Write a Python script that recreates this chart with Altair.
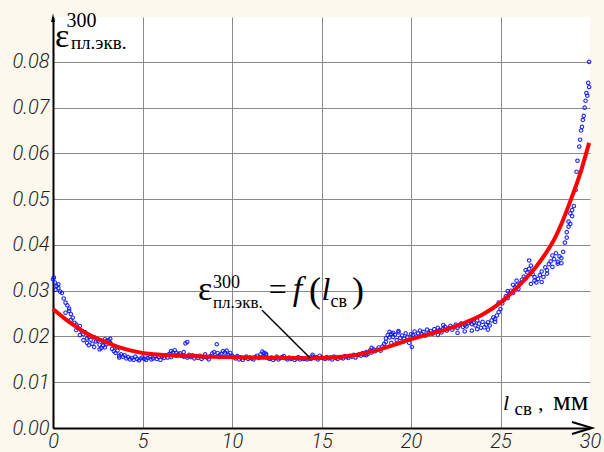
import altair as alt
import pandas as pd

# ---------------- data (y values in thousandths) ----------------
scatter_pts = [
    (0.0,32.5),(0.05,32.9),(0.1,31.8),(0.15,30.2),(0.2,31.0),(0.3,30.6),(0.3,31.4),(0.4,29.8),(0.5,29.5),
    (0.6,28.3),(0.7,27.4),(0.7,25.2),(0.8,26.8),(0.9,25.6),(0.9,26.1),(1.0,24.9),(1.0,23.6),
    (1.1,24.1),(1.2,23.0),(1.3,22.6),(1.3,21.4),(1.4,21.8),(1.5,22.3),(1.5,20.3),(1.6,21.2),(1.7,20.5),(1.7,19.2),(1.8,20.9),(1.9,19.6),(1.9,18.6),(2.0,19.9),(2.0,18.1),
    (2.1,19.3),(2.2,18.4),(2.3,17.7),(2.3,19.8),(2.4,18.9),(2.5,19.1),(2.6,18.2),(2.6,17.2),(2.7,17.5),(2.8,18.8),(2.8,18.0),(2.9,19.4),(2.9,17.6),(3.0,19.0),(3.0,18.3),
    (3.1,19.2),(3.2,18.6),(3.2,19.5),(3.3,17.3),(3.4,16.8),(3.5,16.4),(3.5,17.8),(3.6,16.9),(3.7,15.8),(3.7,15.4),(3.8,16.1),(3.9,15.6),(4.0,15.9),
    (4.1,15.2),(4.2,15.5),(4.3,15.0),(4.4,15.3),(4.5,14.9),(4.6,15.6),(4.7,15.1),(4.8,14.8),(4.9,15.2),(5.0,15.4),
    (5.1,15.1),(5.2,14.9),(5.3,15.3),(5.4,15.6),(5.5,15.0),(5.6,15.2),(5.7,15.7),(5.8,15.1),(5.9,15.5),(6.0,14.9),
    (6.1,15.6),(6.2,15.3),(6.3,15.9),(6.4,15.4),(6.5,16.2),(6.6,16.8),(6.6,15.5),(6.7,16.5),(6.8,17.0),(6.9,16.4),(6.9,15.8),(7.0,16.1),
    (7.1,16.3),(7.2,15.8),(7.3,15.6),(7.3,16.6),(7.4,18.5),(7.5,18.8),(7.5,15.4),(7.6,16.0),(7.7,15.5),(7.8,15.9),(7.9,15.2),(8.0,15.7),
    (8.1,15.3),(8.2,15.8),(8.3,15.1),(8.4,15.5),(8.5,16.1),(8.6,15.4),(8.7,15.0),(8.8,15.7),(8.9,16.3),(9.0,16.6),
    (9.15,18.3),(9.2,16.4),(9.3,15.9),(9.3,15.5),(9.4,16.2),(9.5,16.8),(9.6,16.5),(9.7,15.6),(9.7,16.9),(9.8,16.0),(9.9,16.4),(10.0,15.8),
    (10.1,15.5),(10.2,15.2),(10.3,15.7),(10.4,15.0),(10.5,15.4),(10.6,14.9),(10.7,15.3),(10.8,15.6),(10.9,15.1),(11.0,15.4),
    (11.1,15.2),(11.2,15.0),(11.3,15.5),(11.4,15.8),(11.5,15.3),(11.6,16.1),(11.7,15.6),(11.7,16.7),(11.8,16.4),(11.9,15.9),(11.9,16.2),(12.0,15.3),
    (12.1,15.1),(12.2,15.4),(12.3,14.9),(12.4,15.2),(12.5,15.6),(12.6,15.0),(12.7,15.3),(12.8,15.5),(12.9,15.7),(13.0,15.2),
    (13.1,15.0),(13.2,15.4),(13.3,15.1),(13.4,15.3),(13.5,14.9),(13.6,15.2),(13.7,15.5),(13.8,15.0),(13.9,15.3),(14.0,15.1),
    (14.1,15.2),(14.2,15.0),(14.3,15.4),(14.4,15.1),(14.5,15.6),(14.5,16.0),(14.6,15.3),(14.7,15.5),(14.8,15.0),(14.9,15.8),(15.0,15.4),
    (15.1,15.3),(15.2,15.1),(15.3,15.5),(15.4,15.2),(15.5,15.4),(15.6,15.0),(15.7,15.6),(15.8,15.3),(15.9,15.1),(16.0,15.5),
    (16.1,15.4),(16.2,15.2),(16.3,15.7),(16.4,15.5),(16.5,15.3),(16.6,15.8),(16.7,15.6),(16.8,16.0),(16.9,15.4),(17.0,15.9),
    (17.1,16.1),(17.2,15.8),(17.3,16.4),(17.4,16.0),(17.5,16.6),(17.5,15.9),(17.6,16.2),(17.7,16.9),(17.8,16.5),(17.8,17.5),(17.9,17.2),(18.0,16.8),
    (18.1,17.1),(18.2,17.6),(18.3,16.9),(18.4,17.8),(18.5,18.4),(18.6,19.6),(18.6,18.8),(18.7,20.3),(18.8,19.8),(18.8,21.0),(18.9,20.6),(18.9,18.6),(19.0,19.9),(19.0,20.8),
    (19.1,20.4),(19.2,19.2),(19.3,20.9),(19.3,21.2),(19.4,19.7),(19.5,20.2),(19.6,19.5),(19.6,18.9),(19.7,20.7),(19.8,19.9),(19.9,18.6),(20.0,20.5),(20.05,17.7),
    (20.1,20.3),(20.2,21.1),(20.3,20.0),(20.4,20.7),(20.5,21.3),(20.6,20.5),(20.7,21.0),(20.8,20.2),(20.9,21.5),(21.0,20.8),
    (21.1,21.2),(21.2,20.6),(21.3,21.6),(21.4,21.0),(21.5,21.9),(21.5,20.4),(21.6,21.4),(21.7,20.9),(21.8,21.7),(21.8,22.5),(21.9,22.1),(22.0,21.3),
    (22.1,21.8),(22.2,22.3),(22.3,21.5),(22.4,22.0),(22.5,22.6),(22.6,21.9),(22.6,20.8),(22.7,22.4),(22.8,22.8),(22.9,22.1),(23.0,22.5),(23.0,21.1),
    (23.1,22.2),(23.2,22.9),(23.3,23.3),(23.4,22.7),(23.4,21.3),(23.5,23.0),(23.6,22.4),(23.7,23.5),(23.7,21.6),(23.8,22.8),(23.9,21.9),(24.0,23.2),
    (24.1,22.0),(24.2,22.6),(24.3,23.1),(24.3,21.5),(24.4,22.4),(24.5,23.5),(24.6,24.2),(24.7,23.8),(24.7,23.2),(24.8,24.6),(24.9,25.3),(24.9,27.4),(25.0,26.0),
    (25.1,27.2),(25.2,28.0),(25.3,28.8),(25.4,28.4),(25.4,29.9),(25.5,29.3),(25.6,30.0),(25.7,29.5),(25.7,31.3),(25.8,30.7),(25.9,31.2),(25.9,32.2),(26.0,30.4),
    (26.1,31.6),(26.2,32.4),(26.3,33.1),(26.4,32.7),(26.4,34.5),(26.5,34.0),(26.6,34.8),(26.6,36.6),(26.7,35.5),(26.7,31.5),(26.8,33.6),(26.9,32.2),(26.9,33.0),(27.0,31.8),
    (27.1,32.6),(27.2,33.4),(27.3,34.2),(27.3,31.9),(27.4,33.0),(27.5,35.1),(27.6,34.5),(27.6,33.7),(27.7,35.8),(27.8,36.4),(27.9,35.2),(27.9,37.7),(28.0,36.9),
    (28.1,38.2),(28.2,36.3),(28.2,35.9),(28.3,37.5),(28.4,36.0),(28.4,37.1),(28.5,38.5),
    (28.6,40.5),(28.7,42.8),(28.7,41.6),(28.8,45.1),(28.8,44.0),(28.9,46.9),(28.9,44.6),(29.0,47.6),(29.0,46.3),
    (29.1,48.5),(29.2,52.0),(29.25,56.0),(29.3,58.4),(29.4,61.5),(29.45,63.0),(29.5,65.0),(29.55,65.8),(29.6,67.3),(29.65,68.2),
    (29.7,70.0),(29.75,71.5),(29.8,73.2),(29.85,72.6),(29.9,75.4),(29.95,80.0),(29.95,74.5),
]

fit_x = [0, 0.5, 1, 1.5, 2, 2.5, 3, 3.5, 4, 4.5, 5, 6, 7, 8, 9, 10, 11, 12, 13, 14, 15, 16, 17, 18, 19, 20,
         21, 22, 23, 24, 25, 26, 27, 27.5, 28, 28.5, 29, 29.5, 29.95]
fit_y = [26.0, 24.4, 22.9, 21.6, 20.4, 19.5, 18.7, 17.9, 17.3, 16.8, 16.4, 16.0, 15.8, 15.65, 15.55, 15.5, 15.4,
         15.35, 15.3, 15.25, 15.3, 15.5, 16.0, 16.9, 18.1, 19.4, 20.5, 21.6, 23.0, 24.8, 27.4, 31.0, 35.3, 38.0,
         41.2, 45.5, 50.6, 56.2, 62.3]

x_ticks = [0, 5, 10, 15, 20, 25, 30]
y_ticks = [0, 0.01, 0.02, 0.03, 0.04, 0.05, 0.06, 0.07, 0.08]

leader_x = [11.67, 14.36]
leader_y = [25.8, 15.3]

# text pieces: text, x, y(thousandths), font size, italic
label_text = ["ε", "300", "пл.экв.", "=", "f", "(", "l", "св", ")",
              "ε", "300", "пл.экв.",
              "l", "св", ",", "мм"]
label_x = [8.10, 8.94, 8.94, 12.05, 13.4, 14.3, 15.0, 15.5, 16.7,
           0.11, 0.75, 1.0,
           25.14, 25.78, 27.1, 27.93]
label_y = [27.98, 30.6, 26.2, 27.98, 27.98, 27.6, 27.98, 26.45, 27.6,
           83.3, 87.7, 82.9,
           3.93, 2.84, 3.93, 3.93]
label_size = [34, 18, 17, 32, 34, 36, 32, 18, 36,
              34, 20, 19,
              22, 19, 22, 28]
label_italic = [0, 0, 0, 0, 1, 0, 1, 0, 0,
                0, 0, 0,
                1, 0, 0, 0]

# ---------------- frames ----------------
sc = pd.DataFrame(scatter_pts, columns=["x", "ym"])
sc["y"] = sc["ym"] / 1000
fit = pd.DataFrame({"x": fit_x, "y": [v / 1000 for v in fit_y]})
lead = pd.DataFrame({"x": leader_x, "y": [v / 1000 for v in leader_y]})
labels = pd.DataFrame({"t": label_text, "x": label_x, "y": [v / 1000 for v in label_y],
                       "fs": label_size, "it": label_italic})

W, H = 537, 411
YMAX = 0.0898
xs = alt.Scale(domain=[0, 30], nice=False, zero=False)
ys = alt.Scale(domain=[0, YMAX], nice=False, zero=False)

tick_font = "Roboto"

x_axis = alt.Axis(values=x_ticks, title=None, grid=True, gridColor="#8a8a8a", gridWidth=1,
                  gridOpacity={"condition": {"test": "datum.value >= 30", "value": 0}, "value": 1},
                  domainColor="black", domainWidth=2, tickSize=0, labelPadding=3,
                  labelFont=tick_font, labelFontStyle="italic", labelFontWeight=300, labelFontSize=20,
                  labelColor="#222222", labelFlush=False, format="d")
y_axis = alt.Axis(values=y_ticks, title=None, grid=True, gridColor="#8a8a8a", gridWidth=1,
                  domainColor="black", domainWidth=2, tickSize=0, labelPadding=4,
                  labelFont=tick_font, labelFontStyle="italic", labelFontWeight=300, labelFontSize=20,
                  labelColor="#222222", labelFlush=False, format=".2f")

base_axes = alt.Chart(sc).mark_point(opacity=0).encode(
    x=alt.X("x:Q", scale=xs, axis=x_axis),
    y=alt.Y("y:Q", scale=ys, axis=y_axis),
)

points = alt.Chart(sc).mark_point(filled=False, size=12, strokeWidth=1.1, color="#0a14ff", opacity=0.9).encode(
    x=alt.X("x:Q", scale=xs), y=alt.Y("y:Q", scale=ys)
)

curve = alt.Chart(fit).mark_line(color="#ff0000", strokeWidth=4, interpolate="monotone").encode(
    x=alt.X("x:Q", scale=xs), y=alt.Y("y:Q", scale=ys)
)

leader = alt.Chart(lead).mark_line(color="black", strokeWidth=1.5).encode(
    x=alt.X("x:Q", scale=xs), y=alt.Y("y:Q", scale=ys)
)

arrow_pts = pd.DataFrame({"x": [0.0], "y": [YMAX]})
y_arrow = alt.Chart(arrow_pts).mark_point(
    shape="M0,-0.7 L0.4,1 L-0.4,1 Z", filled=True, color="black", size=100, opacity=1
).encode(x=alt.X("x:Q", scale=xs), y=alt.Y("y:Q", scale=ys))

x_arrow_pts = pd.DataFrame({"x": [30.0], "y": [0.0]})
x_arrow = alt.Chart(x_arrow_pts).mark_point(
    shape="M-1.8,-0.6 L0.2,0 L-1.8,0.6", filled=False, color="black", strokeWidth=2, size=400, opacity=1
).encode(x=alt.X("x:Q", scale=xs), y=alt.Y("y:Q", scale=ys))

text_font = "Liberation Serif, Times New Roman, serif"
txt_normal = alt.Chart(labels).transform_filter("datum.it == 0").mark_text(
    align="left", baseline="alphabetic", font=text_font, color="black"
).encode(x=alt.X("x:Q", scale=xs), y=alt.Y("y:Q", scale=ys), text="t:N",
         size=alt.Size("fs:Q", scale=None, legend=None))
txt_italic = alt.Chart(labels).transform_filter("datum.it == 1").mark_text(
    align="left", baseline="alphabetic", font=text_font, fontStyle="italic", color="black"
).encode(x=alt.X("x:Q", scale=xs), y=alt.Y("y:Q", scale=ys), text="t:N",
         size=alt.Size("fs:Q", scale=None, legend=None))

chart = alt.layer(base_axes, points, curve, leader, y_arrow, x_arrow, txt_normal, txt_italic).properties(
    width=W, height=H,
    background="#fdf8ee",
    padding={"left": 53, "top": 17, "right": 14, "bottom": 24},
    autosize=alt.AutoSizeParams(type="none"),
).configure_view(fill="white", stroke=None)

chart.save("out.html", embed_options={"renderer": "svg", "actions": False})
